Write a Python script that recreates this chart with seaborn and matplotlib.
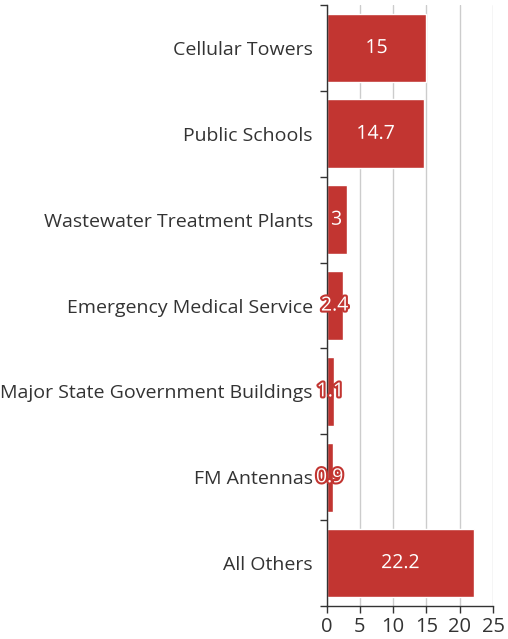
import matplotlib
matplotlib.use("Agg")
import matplotlib.pyplot as plt
import matplotlib.patheffects as pe
import seaborn as sns
import pandas as pd

# data
categories = ["Cellular Towers", "Public Schools", "Wastewater Treatment Plants",
              "Emergency Medical Service", "Major State Government Buildings",
              "FM Antennas", "All Others"]
values = [15, 14.7, 3, 2.4, 1.1, 0.9, 22.2]
xticks = [0, 5, 10, 15, 20, 25]

df = pd.DataFrame({"category": categories, "value": values})

sns.set_style("white")
plt.rcParams["font.family"] = ["Open Sans", "DejaVu Sans"]

red = "#c23531"
fig = plt.figure(figsize=(5.08, 6.39), dpi=100)
ax = fig.add_axes([0.643, 0.0516, 0.3275, 0.9405])

sns.barplot(data=df, x="value", y="category", orient="h", color=red,
            saturation=1, width=0.8, ax=ax)

ax.set_xlim(0, 25)
ax.set_ylim(6.5, -0.5)
ax.set_xticks(xticks)
ax.set_xticklabels([str(t) for t in xticks])
ax.xaxis.grid(True, color="#cccccc", linewidth=1)
ax.set_axisbelow(True)
ax.set_xlabel("")
ax.set_ylabel("")

for side in ["top", "right"]:
    ax.spines[side].set_visible(False)
for side in ["left", "bottom"]:
    ax.spines[side].set_color("#333333")
    ax.spines[side].set_linewidth(1)

# y ticks sit on category boundaries
ax.set_yticks([i - 0.5 for i in range(len(categories) + 1)], minor=True)
ax.tick_params(axis="y", which="minor", length=5, width=1, color="#333333", left=True)
ax.tick_params(axis="y", which="major", length=0, pad=10, labelsize=14, labelcolor="#333333")
ax.tick_params(axis="x", length=5, width=1, color="#333333", bottom=True,
               labelsize=14.5, labelcolor="#333333", pad=3)

for c in ax.containers:
    labels = ax.bar_label(c, fmt="%g", label_type="center", color="white", fontsize=14)
    for t in labels:
        t.set_path_effects([pe.withStroke(linewidth=3, foreground=red)])

fig.savefig("out.png", dpi=100)
